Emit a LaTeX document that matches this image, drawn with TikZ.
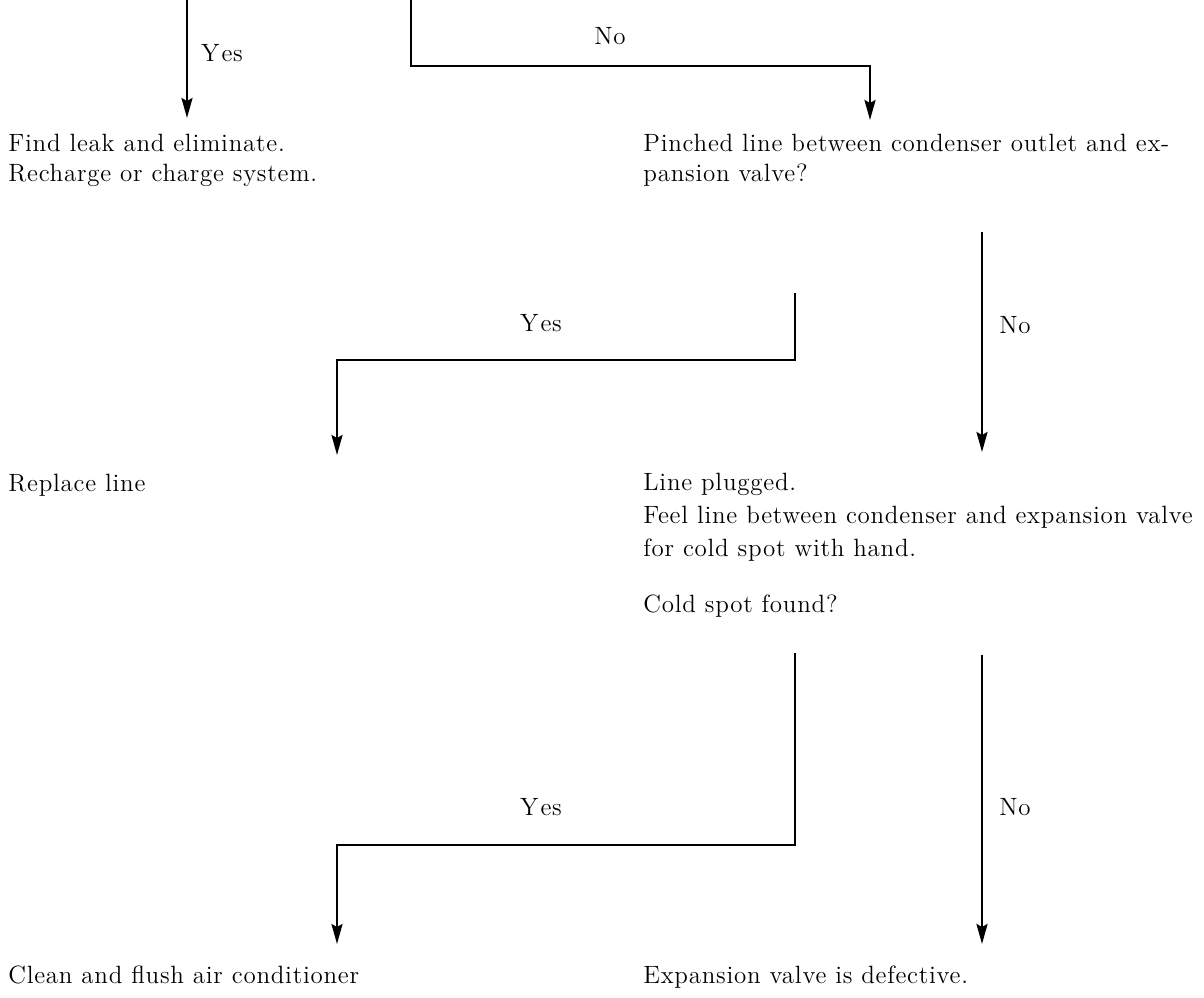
\documentclass[tikz,border=0pt]{standalone}
\usepackage{fontspec}
\setmainfont{Latin Modern Roman}[LetterSpace=3]
\usetikzlibrary{arrows.meta}
\newcommand\flowfont{\fontsize{12.5}{15}\selectfont}
\newcommand\widefont{\fontsize{12.5}{16.5}\selectfont}
\begin{document}
\begin{tikzpicture}[x=0.5pt,y=-0.5pt,
  txt/.style={anchor=north west, inner sep=0pt, align=left, font=\flowfont},
  lbl/.style={inner sep=0pt, font=\flowfont},
  flow/.style={line width=1.2pt, -{Stealth[length=10pt,width=5.5pt,inset=1.5pt]}, shorten >=8pt}]
\useasboundingbox (0,0) rectangle (1204,997);

% text blocks
\node[txt] (find) at (8,134) {Find leak and eliminate.\\Recharge or charge system.};
\node[txt] (pinched) at (643,134) {Pinched line between condenser outlet and ex-\\pansion valve?};
\node[txt] (replace) at (8,474) {Replace line};
\node[txt, font=\widefont] (plugged) at (643,473) {Line plugged.\\Feel line between condenser and expansion valve\\for cold spot with hand.};
\node[txt] (cold) at (643,594) {Cold spot found?};
\node[txt] (clean) at (8,965) {Clean and flush air conditioner};
\node[txt] (defect) at (643,965) {Expansion valve is defective.};

% branch labels
\node[lbl] (l1) at (222,53) {Y\kern1pt es};
\node[lbl] (l2) at (610,36) {No};
\node[lbl] (l3) at (541,323) {Y\kern1pt es};
\node[lbl] (l4) at (1015,325) {No};
\node[lbl] (l5) at (541,807) {Y\kern1pt es};
\node[lbl] (l6) at (1015,807) {No};

% connector start and bend points
\coordinate (in1) at (187,0);
\coordinate (in2) at (411,0);
\coordinate (j2) at (870,66);
\coordinate (y1) at (795,293);
\coordinate (b1) at (337,360);
\coordinate (n1) at (982,232);
\coordinate (y2) at (795,653);
\coordinate (b2) at (337,845);
\coordinate (n2) at (982,655);

% connectors
\draw[flow] (in1) -- (in1 |- find.north);
\draw[flow, shorten >=7pt] (in2) |- (j2) -- (j2 |- pinched.north);
\draw[flow, shorten >=9.5pt] (y1) |- (b1) -- (b1 |- replace.north);
\draw[flow, shorten >=10.5pt] (n1) -- (n1 |- plugged.north);
\draw[flow, shorten >=10.5pt] (y2) |- (b2) -- (b2 |- clean.north);
\draw[flow, shorten >=10.5pt] (n2) -- (n2 |- defect.north);
\end{tikzpicture}
\end{document}
